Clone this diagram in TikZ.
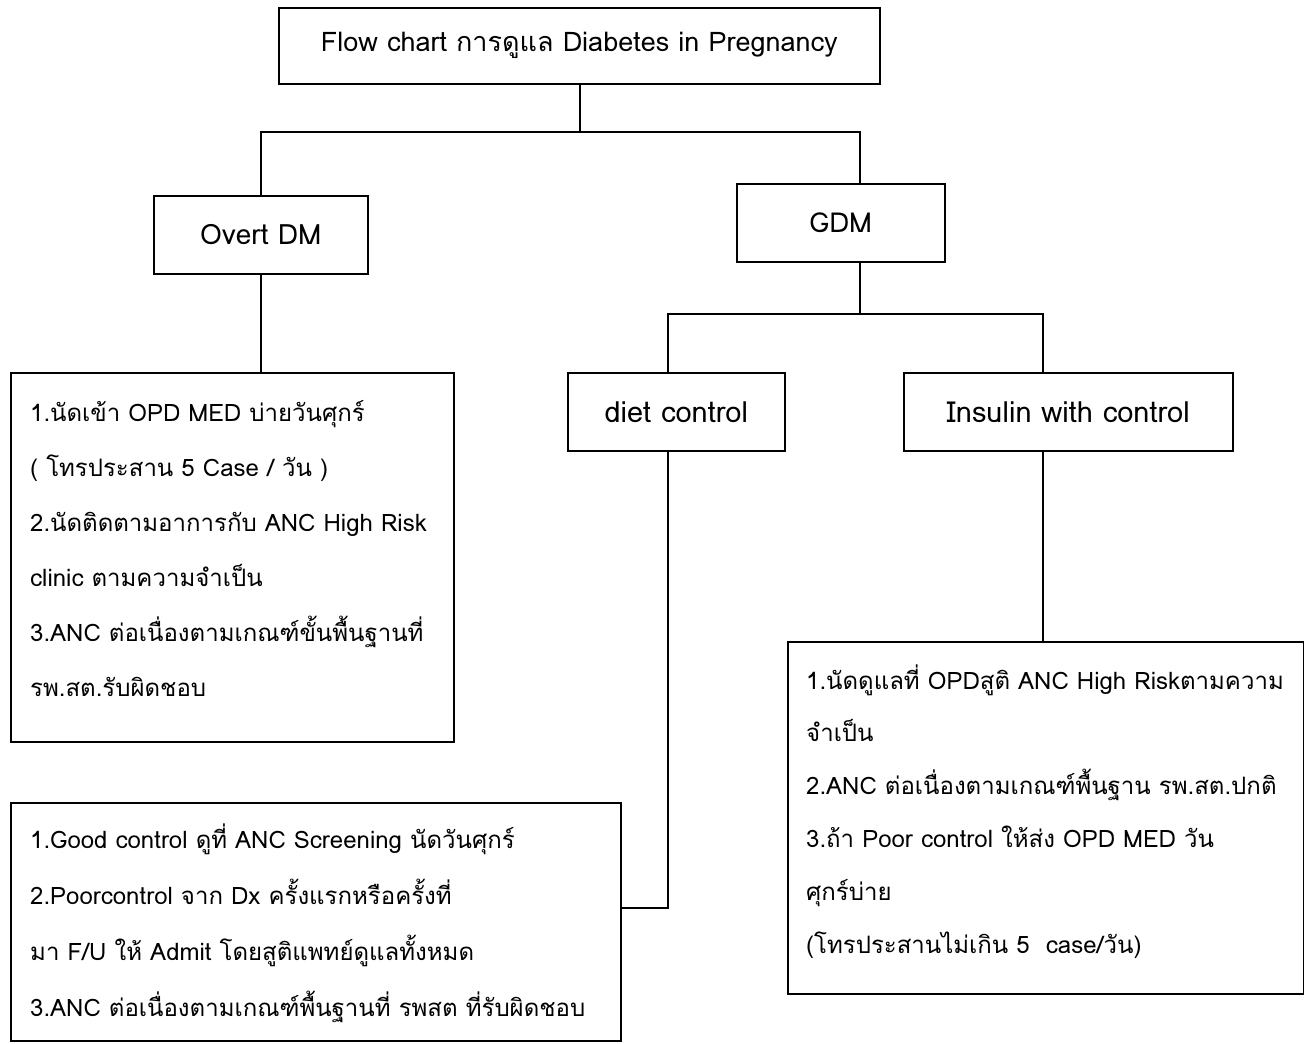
\documentclass[tikz,border=0pt]{standalone}
\usepackage{fontspec}
\setmainfont[Script=Thai]{Loma}
\begin{document}
\begin{tikzpicture}[x=1pt,y=-1pt,
  box/.style={draw, line width=1.6pt, inner sep=0pt, anchor=north west},
  body/.style={anchor=base west, align=left, inner sep=0pt},
  conn/.style={line width=1.6pt}]
\useasboundingbox (0,0) rectangle (1304,1044);
\fill[white] (0,0) rectangle (1304,1044);
% boxes
\node[box, minimum width=601, minimum height=76, font=\fontsize{27}{27}\selectfont] (T) at (278,7) {Flow chart การดูแล Diabetes in Pregnancy};
\node[box, minimum width=214, minimum height=78, font=\fontsize{28}{28}\selectfont] (O) at (153,195) {Overt DM};
\node[box, minimum width=208, minimum height=78, font=\fontsize{27.5}{27.5}\selectfont] (G) at (736,183) {GDM};
\node[box, minimum width=217, minimum height=78, font=\fontsize{29}{29}\selectfont] (D) at (567,372) {diet control};
\node[box, minimum width=329, minimum height=78, font=\fontsize{29}{29}\selectfont] (I) at (903,372) {Insulin with control};
\node[box, minimum width=443, minimum height=369] (L) at (10,372) {};
\node[box, minimum width=610, minimum height=238] (B) at (10,802) {};
\node[box, minimum width=516, minimum height=352] (R) at (787,641) {};
% texts (anchor = baseline of last line)
\node[body, font=\fontsize{24}{55}\selectfont] (Lt) at (30,696) {1.นัดเข้า OPD MED บ่ายวันศุกร์\\
( โทรประสาน 5 Case / วัน )\\
2.นัดติดตามอาการกับ ANC High Risk\\
clinic ตามความจำเป็น\\
3.ANC ต่อเนื่องตามเกณฑ์ขั้นพื้นฐานที่\\
รพ.สต.รับผิดชอบ};
\node[body, font=\fontsize{24}{55.7}\selectfont] (Bt) at (30,1016) {1.Good control ดูที่ ANC Screening นัดวันศุกร์\\
2.Poorcontrol จาก Dx ครั้งแรกหรือครั้งที่\\
มา F/U ให้ Admit โดยสูติแพทย์ดูแลทั้งหมด\\
3.ANC ต่อเนื่องตามเกณฑ์พื้นฐานที่ รพสต ที่รับผิดชอบ};
\node[body, font=\fontsize{24}{52.8}\selectfont] (Rt) at (806,953) {1.นัดดูแลที่ OPDสูติ ANC High Riskตามความ\\
จำเป็น\\
2.ANC ต่อเนื่องตามเกณฑ์พื้นฐาน รพ.สต.ปกติ\\
3.ถ้า Poor control ให้ส่ง OPD MED วัน\\
ศุกร์บ่าย\\
(โทรประสานไม่เกิน 5~ case/วัน)};
% junctions
\coordinate (ja) at (580,132);
\coordinate (jb) at (668,314);
\coordinate (jc) at (668,908);
\coordinate (gx) at (860,0);
\coordinate (dx) at (668,0);
\coordinate (ix) at (1043,0);
% connectors
\draw[conn] (T.south -| ja) -- (ja);
\draw[conn] (O.north) -- (O.north |- ja) -- (gx |- ja) -- (G.north -| gx);
\draw[conn] (O.south) -- (L.north -| O.south);
\draw[conn] (G.south -| gx) -- (gx |- jb);
\draw[conn] (D.north -| dx) -- (jb) -- (ix |- jb) -- (I.north -| ix);
\draw[conn] (I.south -| ix) -- (R.north -| ix);
\draw[conn] (D.south -| dx) -- (jc) -- (B.east |- jc);
\end{tikzpicture}
\end{document}
